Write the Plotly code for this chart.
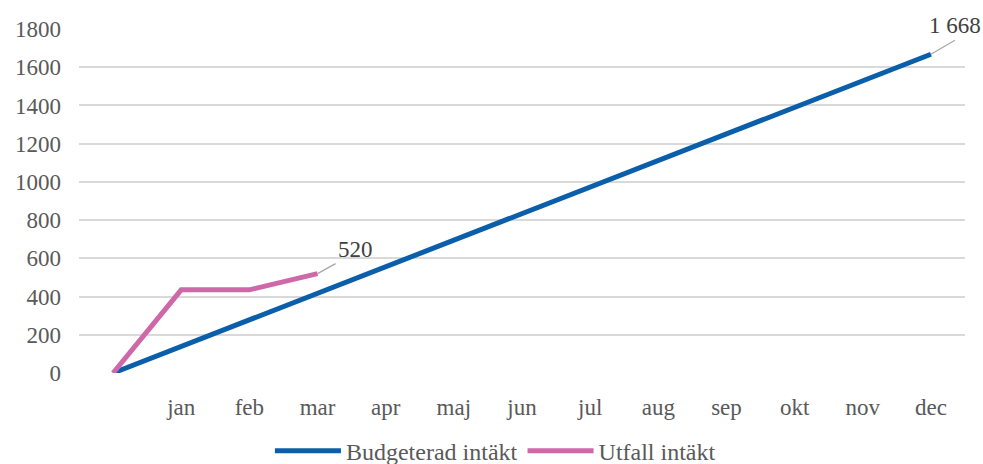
import plotly.graph_objects as go

months = ["", "jan", "feb", "mar", "apr", "maj", "jun", "jul", "aug", "sep", "okt", "nov", "dec"]
budget = [0, 139, 278, 417, 556, 695, 834, 973, 1112, 1251, 1390, 1529, 1668]
utfall = [0, 435, 435, 520]
yticks = [0, 200, 400, 600, 800, 1000, 1200, 1400, 1600, 1800]

xs = list(range(len(months)))
font_family = "Liberation Serif"
grey = "#595959"
tfont = dict(family=font_family, size=23, color=grey)

fig = go.Figure()
fig.add_trace(go.Scatter(x=xs, y=budget, mode="lines", name="Budgeterad intäkt",
                         line=dict(color="#0B5FAA", width=5)))
fig.add_trace(go.Scatter(x=xs[:len(utfall)], y=utfall, mode="lines", name="Utfall intäkt",
                         line=dict(color="#CF68A8", width=5)))

fig.add_annotation(x=xs[len(utfall)-1], y=utfall[-1], text=f"{utfall[-1]}",
                   showarrow=True, arrowhead=0, arrowwidth=1.2, arrowcolor="#A6A6A6",
                   ax=18, ay=-10, xanchor="left", yanchor="bottom",
                   font=dict(family=font_family, size=23, color="#404040"))
fig.add_annotation(x=xs[-1], y=budget[-1], text=f"{budget[-1]:,}".replace(",", " "),
                   showarrow=True, arrowhead=0, arrowwidth=1.2, arrowcolor="#A6A6A6",
                   ax=24, ay=-14, xanchor="center", yanchor="bottom",
                   font=dict(family=font_family, size=23, color="#404040"))

fig.update_layout(
    width=983, height=464,
    margin=dict(l=79, r=18, t=29, b=91, autoexpand=False),
    paper_bgcolor="white", plot_bgcolor="white",
    font=tfont,
    showlegend=True,
    legend=dict(orientation="h", xref="container", x=0.504, xanchor="center",
                y=-0.227, yanchor="middle",
                font=dict(family=font_family, size=24, color=grey),
                itemwidth=66, traceorder="normal"),
)
fig.update_xaxes(range=[-0.5, len(months)-0.5], tickmode="array", tickvals=xs, ticktext=months,
                 showgrid=False, zeroline=False, showline=False, ticks="",
                 tickfont=tfont, ticklabelstandoff=18, automargin=False)
fig.update_yaxes(range=[0, 1800], tickmode="array", tickvals=yticks,
                 ticktext=[str(v) for v in yticks], tickfont=tfont,
                 showgrid=True, gridcolor="#D9D9D9", gridwidth=1.5, zeroline=False,
                 showline=False, ticks="", ticklabelstandoff=17, automargin=False)

fig.write_html("out.html", config={"displayModeBar": False},
               post_script="document.body.style.margin='0';document.body.style.overflow='hidden';")
